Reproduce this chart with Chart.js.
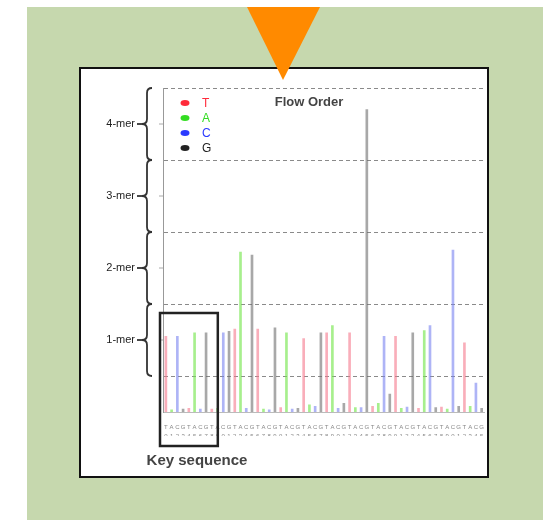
<!DOCTYPE html>
<html>
<head>
<meta charset="utf-8">
<script src="https://cdn.jsdelivr.net/npm/chart.js@4"></script>
<style>
  body { margin: 0; background: #fff; width: 543px; height: 520px; position: relative; overflow: hidden; font-family: Arial, "Liberation Sans", sans-serif; }
  #bg { position: absolute; left: 27px; top: 7px; right: 0; bottom: 0; background: #c6d8ae; }
  #frame { position: absolute; left: 79px; top: 67px; width: 410px; height: 411px; box-sizing: border-box; border: 2px solid #111; background: #fff; }
  #frame canvas { display: block; }
  #arrow { position: absolute; left: 0; top: 0; z-index: 5; }
</style>
</head>
<body>
<div id="bg"></div>
<div id="frame"><canvas id="chart" width="406" height="407"></canvas></div>
<svg id="arrow" width="543" height="100"><polygon points="247,7 320,7 283,80" fill="#ff8a00"/></svg>
<script>
// flow order repeats T A C G, one value per cycle for each nucleotide
const flowOrder = ['T', 'A', 'C', 'G'];
const cycles = 14;
const tValues = [1.05, 0.05, 0.04, 1.15, 1.15, 0.06, 1.02, 1.1, 1.1, 0.08, 1.05, 0.05, 0.07, 0.96];
const aValues = [0.03, 1.1, 0.05, 2.22, 0.04, 1.1, 0.1, 1.2, 0.06, 0.12, 0.05, 1.13, 0.04, 0.08];
const cValues = [1.05, 0.04, 1.1, 0.05, 0.03, 0.04, 0.08, 0.05, 0.06, 1.05, 0.07, 1.2, 2.25, 0.4];
const gValues = [0.04, 1.1, 1.12, 2.18, 1.17, 0.05, 1.1, 0.12, 4.2, 0.25, 1.1, 0.06, 0.08, 0.05];
const merLabels = ['1-mer', '2-mer', '3-mer', '4-mer'];

const series = [
    { name: 'T', values: tValues, bar: 'rgba(245,120,140,0.6)', key: '#ff2a3a' },
    { name: 'A', values: aValues, bar: 'rgba(120,230,80,0.65)', key: '#33dd22' },
    { name: 'C', values: cValues, bar: 'rgba(120,130,240,0.6)', key: '#2a3aff' },
    { name: 'G', values: gValues, bar: 'rgba(110,110,110,0.6)', key: '#222' }
];

const flows = [];
for (let k = 0; k < cycles; k++) {
    flowOrder.forEach(n => flows.push(n));
}

const datasets = series.map((s, si) => {
    const data = flows.map(() => null);
    s.values.forEach((v, k) => { data[k * 4 + si] = v; });
    return {
        label: s.name,
        data: data,
        backgroundColor: s.bar,
        borderWidth: 0,
        barThickness: 2,
        grouped: false
    };
});

const decor = {
    id: 'decor',
    afterDraw(chart) {
        const ctx = chart.ctx;
        const x = chart.scales.x;
        const y = chart.scales.y;
        const area = chart.chartArea;
        ctx.save();

        // braces with mer labels
        const bx = 66;
        merLabels.forEach((lab, i) => {
            const top = y.getPixelForValue(i + 1.5);
            const bot = y.getPixelForValue(i + 0.5);
            const mid = y.getPixelForValue(i + 1);
            ctx.strokeStyle = '#333';
            ctx.lineWidth = 1.8;
            ctx.beginPath();
            ctx.moveTo(bx + 5, top);
            ctx.quadraticCurveTo(bx, top, bx, top + 5);
            ctx.lineTo(bx, mid - 5);
            ctx.quadraticCurveTo(bx, mid, bx - 5, mid);
            ctx.quadraticCurveTo(bx, mid, bx, mid + 5);
            ctx.lineTo(bx, bot - 5);
            ctx.quadraticCurveTo(bx, bot, bx + 5, bot);
            ctx.stroke();
            ctx.beginPath();
            ctx.moveTo(bx - 5, mid);
            ctx.lineTo(bx - 10, mid);
            ctx.stroke();
            ctx.fillStyle = '#222';
            ctx.font = '11px Arial';
            ctx.textAlign = 'right';
            ctx.textBaseline = 'middle';
            ctx.fillText(lab, bx - 12, mid);
            ctx.strokeStyle = '#aaa';
            ctx.lineWidth = 1;
            ctx.beginPath();
            ctx.moveTo(area.left - 4, mid);
            ctx.lineTo(area.left, mid);
            ctx.stroke();
        });

        // legend
        series.forEach((s, i) => {
            const ly = 34 + i * 15;
            ctx.fillStyle = s.key;
            ctx.beginPath();
            ctx.ellipse(104, ly, 4.5, 3, 0, 0, Math.PI * 2);
            ctx.fill();
            ctx.font = '12px Arial';
            ctx.textAlign = 'left';
            ctx.textBaseline = 'middle';
            ctx.fillText(s.name, 121, ly + 1);
        });

        // title
        ctx.fillStyle = '#444';
        ctx.font = 'bold 13px Arial';
        ctx.textAlign = 'center';
        ctx.fillText('Flow Order', 228, 33);

        // key sequence box
        const kl = area.left - 3;
        const kr = x.getPixelForValue(8) + 6;
        const kt = y.getPixelForValue(1.375);
        const kb = area.bottom + 34;
        ctx.strokeStyle = '#222';
        ctx.lineWidth = 2.5;
        ctx.strokeRect(kl, kt, kr - kl, kb - kt);
        ctx.fillStyle = '#444';
        ctx.font = 'bold 15px Arial';
        ctx.fillText('Key sequence', 116, kb + 15);
        ctx.restore();
    }
};

new Chart(document.getElementById('chart'), {
    type: 'bar',
    data: { labels: flows, datasets: datasets },
    options: {
        responsive: false,
        animation: false,
        layout: { padding: { left: 82, top: 19, right: 0, bottom: 40 } },
        plugins: { legend: { display: false }, tooltip: { enabled: false } },
        scales: {
            x: {
                grid: { display: false },
                border: { color: '#bbb' },
                ticks: {
                    autoSkip: false,
                    maxRotation: 0,
                    padding: 3,
                    color: '#888',
                    font: { size: 6, lineHeight: 1.5 },
                    callback: (v, i) => [flows[i], String(i % 10)]
                },
                afterFit: s => { s.height = 24; }
            },
            y: {
                min: 0,
                max: 4.5,
                afterBuildTicks: s => { s.ticks = [0.5, 1.5, 2.5, 3.5, 4.5].map(v => ({ value: v })); },
                ticks: { display: false },
                grid: { color: '#8a8a8a', tickLength: 0 },
                border: { color: '#999', dash: [4, 3] },
                afterFit: s => { s.width = 0; }
            }
        }
    },
    plugins: [decor]
});
</script>
</body>
</html>
